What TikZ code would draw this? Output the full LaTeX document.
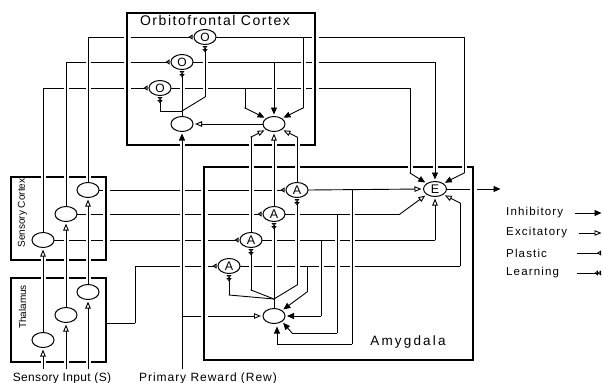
\documentclass[tikz,border=0pt]{standalone}
\usepackage{fontspec}
\setmainfont{Liberation Sans}
\usetikzlibrary{arrows.meta,shapes.geometric}
\pgfdeclarelayer{fg}
\pgfsetlayers{main,fg}
\newcommand{\lsf}[2]{\fontsize{#1}{#1}\selectfont\addfontfeatures{LetterSpace=#2}}
\begin{document}
\begin{tikzpicture}[x=1pt,y=-1pt]
\useasboundingbox (0,0) rectangle (603,383);
\tikzset{
  neuron/.style={ellipse, draw, line width=1pt, fill=white, minimum width=22pt, minimum height=15pt, inner sep=0pt, font=\lsf{12}{0}},
  wire/.style={line width=0.9pt, line cap=rect},
  border/.style={line width=2.2pt, line cap=rect},
  halo/.style={preaction={draw=white, line width=5pt, line cap=butt, shorten <=3.5pt, shorten >=3.5pt, -}},
  bhalo/.style={preaction={draw=white, line width=7pt, line cap=butt, shorten <=3.5pt, shorten >=3.5pt, -}},
  inh/.style={-{Triangle[length=7pt,width=6pt]}, shorten >=1.5pt},
  exc/.style={-{Triangle[open,length=7pt,width=5.5pt]}, shorten >=1.5pt},
  pla/.style={-{Triangle[open,reversed,length=4pt,width=5pt]}, shorten >=1pt},
  lrn/.style={-{Triangle[open,reversed,length=3.2pt,width=5pt]Triangle[open,reversed,length=3.2pt,width=5pt]}, shorten >=1pt},
  lbl/.style={inner sep=0pt}
}
% ---------------- nodes (foreground) ----------------
\begin{pgfonlayer}{fg}
\node[neuron] (T1) at (43,340) {};
\node[neuron] (T2) at (66,315) {};
\node[neuron] (T3) at (88,292) {};
\node[neuron] (C1) at (43,240) {};
\node[neuron] (C2) at (66,214) {};
\node[neuron] (C3) at (88,190) {};
\node[neuron] (O1) at (205,37) {O};
\node[neuron] (O2) at (182,62) {O};
\node[neuron] (O3) at (160,88) {O};
\node[neuron] (OFC1) at (182,124) {};
\node[neuron] (OFC2) at (274,124) {};
\node[neuron,font=\lsf{12.5}{0}] (A1) at (297,190) {A};
\node[neuron,font=\lsf{12.5}{0}] (A2) at (274,214) {A};
\node[neuron,font=\lsf{12.5}{0}] (A3) at (251,240) {A};
\node[neuron,font=\lsf{12.5}{0}] (A4) at (229,266) {A};
\node[neuron,font=\lsf{12.5}{0},minimum width=23pt] (E) at (435,189) {E};
\node[neuron] (B) at (274,316) {};
\end{pgfonlayer}
% ---------------- labels ----------------
\node[lbl,font=\lsf{14}{11}] (tofc) at (215,20) {Orbitofrontal Cortex};
\node[lbl,font=\lsf{10}{0},rotate=90] (tsc) at (22.5,213) {Sensory Cortex};
\node[lbl,font=\lsf{10}{0},rotate=90] (tth) at (22.5,307) {Thalamus};
\node[lbl,font=\lsf{13.5}{16}] (tam) at (408,342) {Amygdala};
\node[lbl,font=\lsf{12}{3}] (tsi) at (62,378) {Sensory Input (S)};
\node[lbl,font=\lsf{12}{8}] (trw) at (208,378) {Primary Reward (Rew)};
\node[lbl,font=\lsf{11.5}{10},anchor=west] (lg1) at (506,213) {Inhibitory};
\node[lbl,font=\lsf{11.5}{10},anchor=west] (lg2) at (506,233) {Excitatory};
\node[lbl,font=\lsf{11.5}{10},anchor=west] (lg3) at (506,253) {Plastic};
\node[lbl,font=\lsf{11.5}{10},anchor=west] (lg4) at (506,273) {Learning};
% ---------------- coordinates ----------------
\coordinate (in1) at (43,369);
\coordinate (in2) at (66,369);
\coordinate (in3) at (88,369);
\coordinate (k3) at (43,88);
\coordinate (k2) at (66,62);
\coordinate (k1) at (88,37);
\coordinate (q1) at (464,37);
\coordinate (q1d) at (464,173);
\coordinate (q2) at (435,62);
\coordinate (q3) at (410,88);
\coordinate (q3d) at (410,173);
\coordinate (p1) at (303,37);
\coordinate (p1d) at (303,108);
\coordinate (p2) at (274,62);
\coordinate (p3) at (245,88);
\coordinate (p3d) at (245,108);
\coordinate (thout) at (106,323);
\coordinate (th1) at (135,323);
\coordinate (th2) at (135,266);
\coordinate (rw1) at (182,369);
\coordinate (rw2) at (182,316);
\coordinate (b1) at (352,190);
\coordinate (b1b) at (352,344);
\coordinate (b1c) at (277,344);
\coordinate (b1e) at (277,325);
\coordinate (b2) at (337,214);
\coordinate (b2b) at (337,333);
\coordinate (b2c) at (292,333);
\coordinate (b3) at (321,240);
\coordinate (b3b) at (321,316);
\coordinate (b4) at (307,266);
\coordinate (b4b) at (307,292);
\coordinate (e2) at (400,214);
\coordinate (e3) at (435,240);
\coordinate (e4) at (460,266);
\coordinate (e4u) at (460,203);
\coordinate (u1) at (297,137);
\coordinate (u3) at (251,137);
\coordinate (J1) at (182,111);
\coordinate (l1) at (205,97);
\coordinate (j3) at (160,111);
\coordinate (J2) at (274,299);
\coordinate (m1) at (297,285);
\coordinate (m3) at (251,290);
\coordinate (m4) at (229,295);
\coordinate (out) at (502,189);
\coordinate (g1a) at (575,213);
\coordinate (g1b) at (603,213);
\coordinate (g2a) at (579,233);
\coordinate (g2b) at (603,233);
\coordinate (g3a) at (577,253);
\coordinate (g3b) at (602,253);
\coordinate (g4a) at (577,273);
\coordinate (g4b) at (602,273);
% ---------------- pass 1: horizontals ----------------
\draw[border] (127,13) -- (315,13);
\draw[border] (127,145) -- (315,145);
\draw[border] (11,177) -- (106,177);
\draw[border] (11,260) -- (106,260);
\draw[border] (11,278) -- (106,278);
\draw[border] (11,362) -- (106,362);
\draw[border] (204,167) -- (473,167);
\draw[border] (204,360) -- (473,360);
\draw[wire,pla] (k3) -- (O3.west);
\draw[wire,pla] (k2) -- (O2.west);
\draw[wire,pla] (k1) -- (O1.west);
\draw[wire] (O1.east) -- (q1);
\draw[wire] (O2.east) -- (q2);
\draw[wire] (O3.east) -- (q3);
\draw[wire,exc] (OFC2.west) -- (OFC1.east);
\draw[wire,pla] (C3.east) -- (A1.west);
\draw[wire,pla] (C2.east) -- (A2.west);
\draw[wire,pla] (C1.east) -- (A3.west);
\draw[wire] (thout) -- (th1);
\draw[wire,pla] (th2) -- (A4.west);
\draw[wire,exc] (rw2) -- (B.west);
\draw[wire,exc] (A1.east) -- (E.west);
\draw[wire] (A2.east) -- (e2);
\draw[wire] (A3.east) -- (e3);
\draw[wire] (A4.east) -- (e4);
\draw[wire] (b1b) -- (b1c);
\draw[wire] (b2b) -- (b2c);
\draw[wire,inh] (b3b) -- (B.east);
\draw[wire] (J1) -- (j3);
\draw[wire,inh] (E.east) -- (out);
\draw[wire,inh] (g1a) -- (g1b);
\draw[wire,exc] (g2a) -- (g2b);
\draw[wire,pla] (g3a) -- (g3b);
\draw[wire,lrn] (g4a) -- (g4b);
% ---------------- pass 2: verticals ----------------
\draw[wire,halo,exc] (in1) -- (T1.south);
\draw[wire,halo,exc] (in2) -- (T2.south);
\draw[wire,halo,exc] (in3) -- (T3.south);
\draw[wire,halo,exc] (T1.north) -- (C1.south);
\draw[wire,halo,exc] (T2.north) -- (C2.south);
\draw[wire,halo,exc] (T3.north) -- (C3.south);
\draw[wire,halo] (C1.north) -- (k3);
\draw[wire,halo] (C2.north) -- (k2);
\draw[wire,halo] (C3.north) -- (k1);
\draw[wire,halo] (th1) -- (th2);
\draw[wire,halo] (q1) -- (q1d);
\draw[wire,halo,inh] (q2) -- (E.north);
\draw[wire,halo] (q3) -- (q3d);
\draw[wire,halo] (p1) -- (p1d);
\draw[wire,halo,inh] (p2) -- (OFC2.north);
\draw[wire,halo] (p3) -- (p3d);
\draw[wire] (rw1) -- (rw2);
\draw[wire,halo,inh] (rw2) -- (OFC1.south);
\draw[wire,halo] (b1) -- (b1b);
\draw[wire,halo,inh] (b1c) -- (b1e);
\draw[wire,halo] (b2) -- (b2b);
\draw[wire,halo] (b3) -- (b3b);
\draw[wire,halo] (b4) -- (b4b);
\draw[wire,halo,exc] (e3) -- (E.south);
\draw[wire,halo] (e4) -- (e4u);
\draw[wire,halo] (A1.north) -- (u1);
\draw[wire,halo,exc] (A2.north) -- (OFC2.south);
\draw[wire,halo] (A3.north) -- (u3);
\draw[wire] (OFC1.north) -- (J1);
\draw[wire,halo,lrn] (l1) -- (O1.south);
\draw[wire,halo,lrn] (J1) -- (O2.south);
\draw[wire,halo,lrn] (j3) -- (O3.south);
\draw[wire] (B.north) -- (J2);
\draw[wire,halo,lrn] (J2) -- (A2.south);
\draw[wire,halo,lrn] (m1) -- (A1.south);
\draw[wire,halo,lrn] (m3) -- (A3.south);
\draw[wire,halo,lrn] (m4) -- (A4.south);
% box vertical borders
\draw[border,bhalo] (127,13) -- (127,145);
\draw[border,bhalo] (315,13) -- (315,145);
\draw[border] (11,177) -- (11,260);
\draw[border,bhalo] (106,177) -- (106,260);
\draw[border] (11,278) -- (11,362);
\draw[border] (106,278) -- (106,362);
\draw[border,bhalo] (204,167) -- (204,360);
\draw[border,bhalo] (473,167) -- (473,360);
% ---------------- pass 3: diagonals ----------------
\draw[wire,inh] (q1d) -- (E.north east);
\draw[wire,inh] (q3d) -- (E.north west);
\draw[wire,inh] (p1d) -- (OFC2.north east);
\draw[wire,inh] (p3d) -- (OFC2.north west);
\draw[wire,exc] (e2) -- (E.south west);
\draw[wire,exc] (e4u) -- (E.south east);
\draw[wire,inh] (b2c) -- (B.south east);
\draw[wire,inh] (b4b) -- (B.north east);
\draw[wire,exc] (u1) -- (OFC2.south east);
\draw[wire,exc] (u3) -- (OFC2.south west);
\draw[wire] (J1) -- (l1);
\draw[wire] (J2) -- (m1);
\draw[wire] (J2) -- (m3);
\draw[wire] (J2) -- (m4);
\end{tikzpicture}
\end{document}
